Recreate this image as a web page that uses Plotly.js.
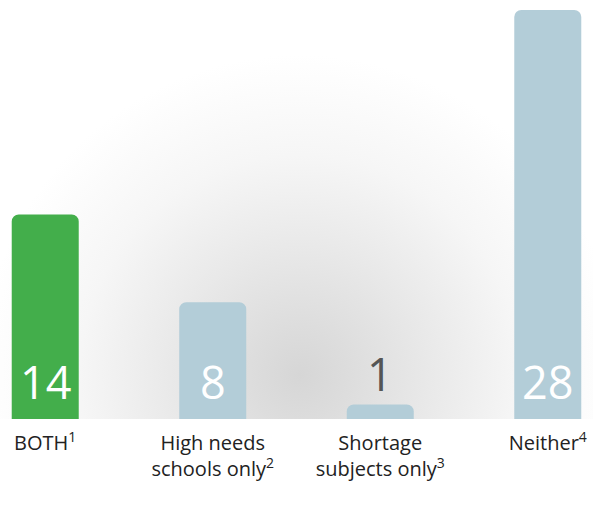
<!DOCTYPE html>
<html>
<head>
<meta charset="utf-8">
<script src="https://cdn.plot.ly/plotly-3.0.1.min.js"></script>
<style>
  html, body { margin: 0; padding: 0; background: #fff; }
  #wrap { position: relative; width: 593px; height: 514px; }
  #bg { position: absolute; left: 0; top: 0; width: 593px; height: 419px;
        background: radial-gradient(circle at 300px 375px, #d6d6d6 0px, #dddddd 50px, #e9e9e9 130px, #f6f6f6 220px, #ffffff 320px); }
  #chart { position: absolute; left: 0; top: 0; width: 593px; height: 514px; }
</style>
</head>
<body>
<div id="wrap"><div id="bg"></div><div id="chart"></div></div>
<script>
const categories = ["BOTH", "High needs schools only", "Shortage subjects only", "Neither"];
const tickLabels = ["BOTH<sup>1</sup>", "High needs<br>schools only<sup>2</sup>", "Shortage<br>subjects only<sup>3</sup>", "Neither<sup>4</sup>"];
const values = [14, 8, 1, 28];
const barColors = ["#43ae4b", "#b3cdd8", "#b3cdd8", "#b3cdd8"];

const smallThreshold = 3;
const annotations = values.map((v, i) => ({
  x: categories[i],
  y: v < smallThreshold ? v : 0,
  xref: 'x', yref: 'y',
  text: String(v),
  showarrow: false,
  yanchor: 'bottom',
  yshift: v < smallThreshold ? -2 : 5,
  font: { family: 'Open Sans, Noto Sans, sans-serif', size: 45, weight: 400,
          color: v < smallThreshold ? '#555555' : '#ffffff' }
}));

const trace = {
  type: 'bar',
  x: categories,
  y: values,
  marker: { color: barColors, cornerradius: 7, line: { width: 0 } },
  width: 0.4,
  hoverinfo: 'none'
};

const layout = {
  width: 593, height: 514,
  margin: { l: 0, r: 0, t: 10, b: 95 },
  paper_bgcolor: 'rgba(0,0,0,0)',
  plot_bgcolor: 'rgba(0,0,0,0)',
  showlegend: false,
  xaxis: {
    type: 'category',
    range: [-0.27, 3.27],
    tickvals: categories,
    ticktext: tickLabels,
    showgrid: false, zeroline: false, showline: false,
    ticks: '', ticklabelstandoff: 10,
    tickfont: { family: 'Open Sans, Noto Sans, sans-serif', size: 20, color: '#222222' }
  },
  yaxis: {
    range: [0, 28],
    showgrid: false, zeroline: false, showline: false,
    showticklabels: false, ticks: ''
  },
  annotations: annotations
};

Plotly.newPlot('chart', [trace], layout, { displayModeBar: false, staticPlot: true });
</script>
</body>
</html>
